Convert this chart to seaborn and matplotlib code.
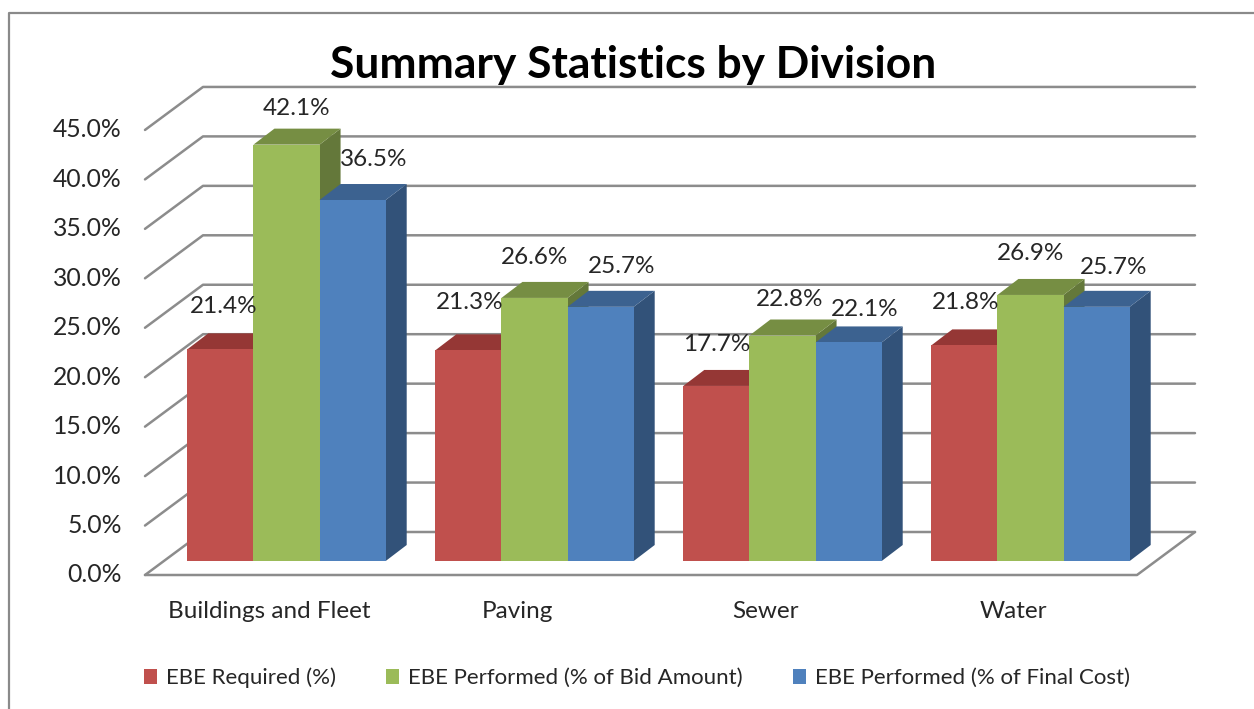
import pandas as pd
import seaborn as sns
import matplotlib.pyplot as plt
from matplotlib.patches import Polygon
from matplotlib.lines import Line2D

# ===== DATA =====
divisions = ["Buildings and Fleet", "Paving", "Sewer", "Water"]
series_names = ["EBE Required (%)", "EBE Performed (% of Bid Amount)", "EBE Performed (% of Final Cost)"]
required = [21.4, 21.3, 17.7, 21.8]
bid_amount = [42.1, 26.6, 22.8, 26.9]
final_cost = [36.5, 25.7, 22.1, 25.7]
y_ticks = [0, 5, 10, 15, 20, 25, 30, 35, 40, 45]

# ===== STYLE =====
front_colors = ["#C0504D", "#9BBB59", "#4F81BD"]
top_colors = ["#953735", "#768E43", "#3C6290"]
side_colors = ["#7F3331", "#64783A", "#325279"]
grid_color = "#8C8C8C"
text_color = "#262626"
font = "Lato"

# label offsets from the bar top, in pixels (read by eye)
label_dx = [[3, 1, 0, 1], [10, 0, 7, 0], [21, 21, 16, 17]]
label_dy = [43, 48, 41, 43], [36, 40, 36, 41], [41, 40, 33, 39]

W, H = 1254, 709
left_px, right_px, base_px = 162.5, 1154.5, 561
px_per_pct = 9.89
px_per_cat = (right_px - left_px) / len(divisions)

df = pd.DataFrame({
    "division": divisions * 3,
    "series": [s for s in series_names for _ in divisions],
    "value": required + bid_amount + final_cost,
})

sns.set_theme(style="white")
plt.rcParams["font.family"] = [font, "DejaVu Sans"]

fig = plt.figure(figsize=(W / 100, H / 100), dpi=100)
ax = fig.add_axes([left_px / W, 1 - base_px / H, (right_px - left_px) / W, 45 * px_per_pct / H])

sns.barplot(data=df, x="division", y="value", hue="series", palette=front_colors,
            saturation=1, width=0.8, gap=0, ax=ax, linewidth=0)
ax.set_xlim(-0.5, len(divisions) - 0.5)
ax.set_ylim(0, 45)
ax.set_xlabel("")
ax.set_ylabel("")
sns.despine(ax=ax, left=True, bottom=True)


def dx(px):
    return px / px_per_cat


def dy(px):
    return px / px_per_pct


# depth of the floor, measured from the bar plane, in pixels
front_x, front_y = -17.5, -14
back_x, back_y = 40.5, 29
bar_x, bar_y = 21, 16

x0, x1 = ax.get_xlim()
for tick in y_ticks:
    xs = [x0 + dx(front_x), x0 + dx(back_x), x1 + dx(back_x)]
    ys = [tick + dy(front_y), tick + dy(back_y), tick + dy(back_y)]
    ax.add_line(Line2D(xs, ys, color=grid_color, lw=1.8, zorder=0.5, clip_on=False))
    ax.text(x0 + dx(front_x - 23), tick + dy(front_y), f"{tick:.1f}%", ha="right", va="center",
            fontsize=17.8, color=text_color, clip_on=False)

# floor outline
ax.add_line(Line2D([x0 + dx(front_x), x1 + dx(front_x), x1 + dx(back_x)],
                   [dy(front_y), dy(front_y), dy(back_y)],
                   color=grid_color, lw=1.8, zorder=0.5, clip_on=False))

# 3d faces built from the bars seaborn drew
for i, container in enumerate(ax.containers):
    for j, bar in enumerate(container):
        xl = bar.get_x()
        xr = xl + bar.get_width()
        h = bar.get_height()
        bar.set_zorder(3 + i + 0.5)
        side = [(xr, 0), (xr + dx(bar_x), dy(bar_y)), (xr + dx(bar_x), h + dy(bar_y)), (xr, h)]
        top = [(xl, h), (xl + dx(bar_x), h + dy(bar_y)), (xr + dx(bar_x), h + dy(bar_y)), (xr, h)]
        ax.add_patch(Polygon(side, closed=True, color=side_colors[i], lw=0, zorder=3 + i, clip_on=False))
        ax.add_patch(Polygon(top, closed=True, color=top_colors[i], lw=0, zorder=3 + i, clip_on=False))
        ax.annotate(f"{h:.1f}%", xy=((xl + xr) / 2, h), xytext=(label_dx[i][j], label_dy[i][j]),
                    textcoords="offset pixels", ha="center", va="center",
                    fontsize=17.5, color=text_color, zorder=20, annotation_clip=False)

ax.set_yticks([])
ax.set_xticks([k + dx(-17) for k in range(len(divisions))])
ax.set_xticklabels(divisions, fontsize=17.5, color=text_color)
ax.tick_params(axis="x", length=0, pad=29)

sns.move_legend(ax, loc="center", bbox_to_anchor=(637 / W, 1 - 678 / H),
                bbox_transform=fig.transFigure, ncol=3, frameon=False, title=None,
                fontsize=16, handlelength=0.6, handleheight=0.6, columnspacing=2.25, handletextpad=0.4)

fig.text(633 / W, 1 - 65 / H, "Summary Statistics by Division", ha="center", va="center",
         fontsize=31.9, fontweight="bold", color="black")

# chart frame, only the top and left edges are in the crop
fig.add_artist(Line2D([8.5 / W, 8.5 / W, 1], [0, 1 - 12.5 / H, 1 - 12.5 / H], transform=fig.transFigure,
                      color="#8A8A8A", lw=1.6))

fig.savefig("out.png", dpi=100)
plt.close(fig)
